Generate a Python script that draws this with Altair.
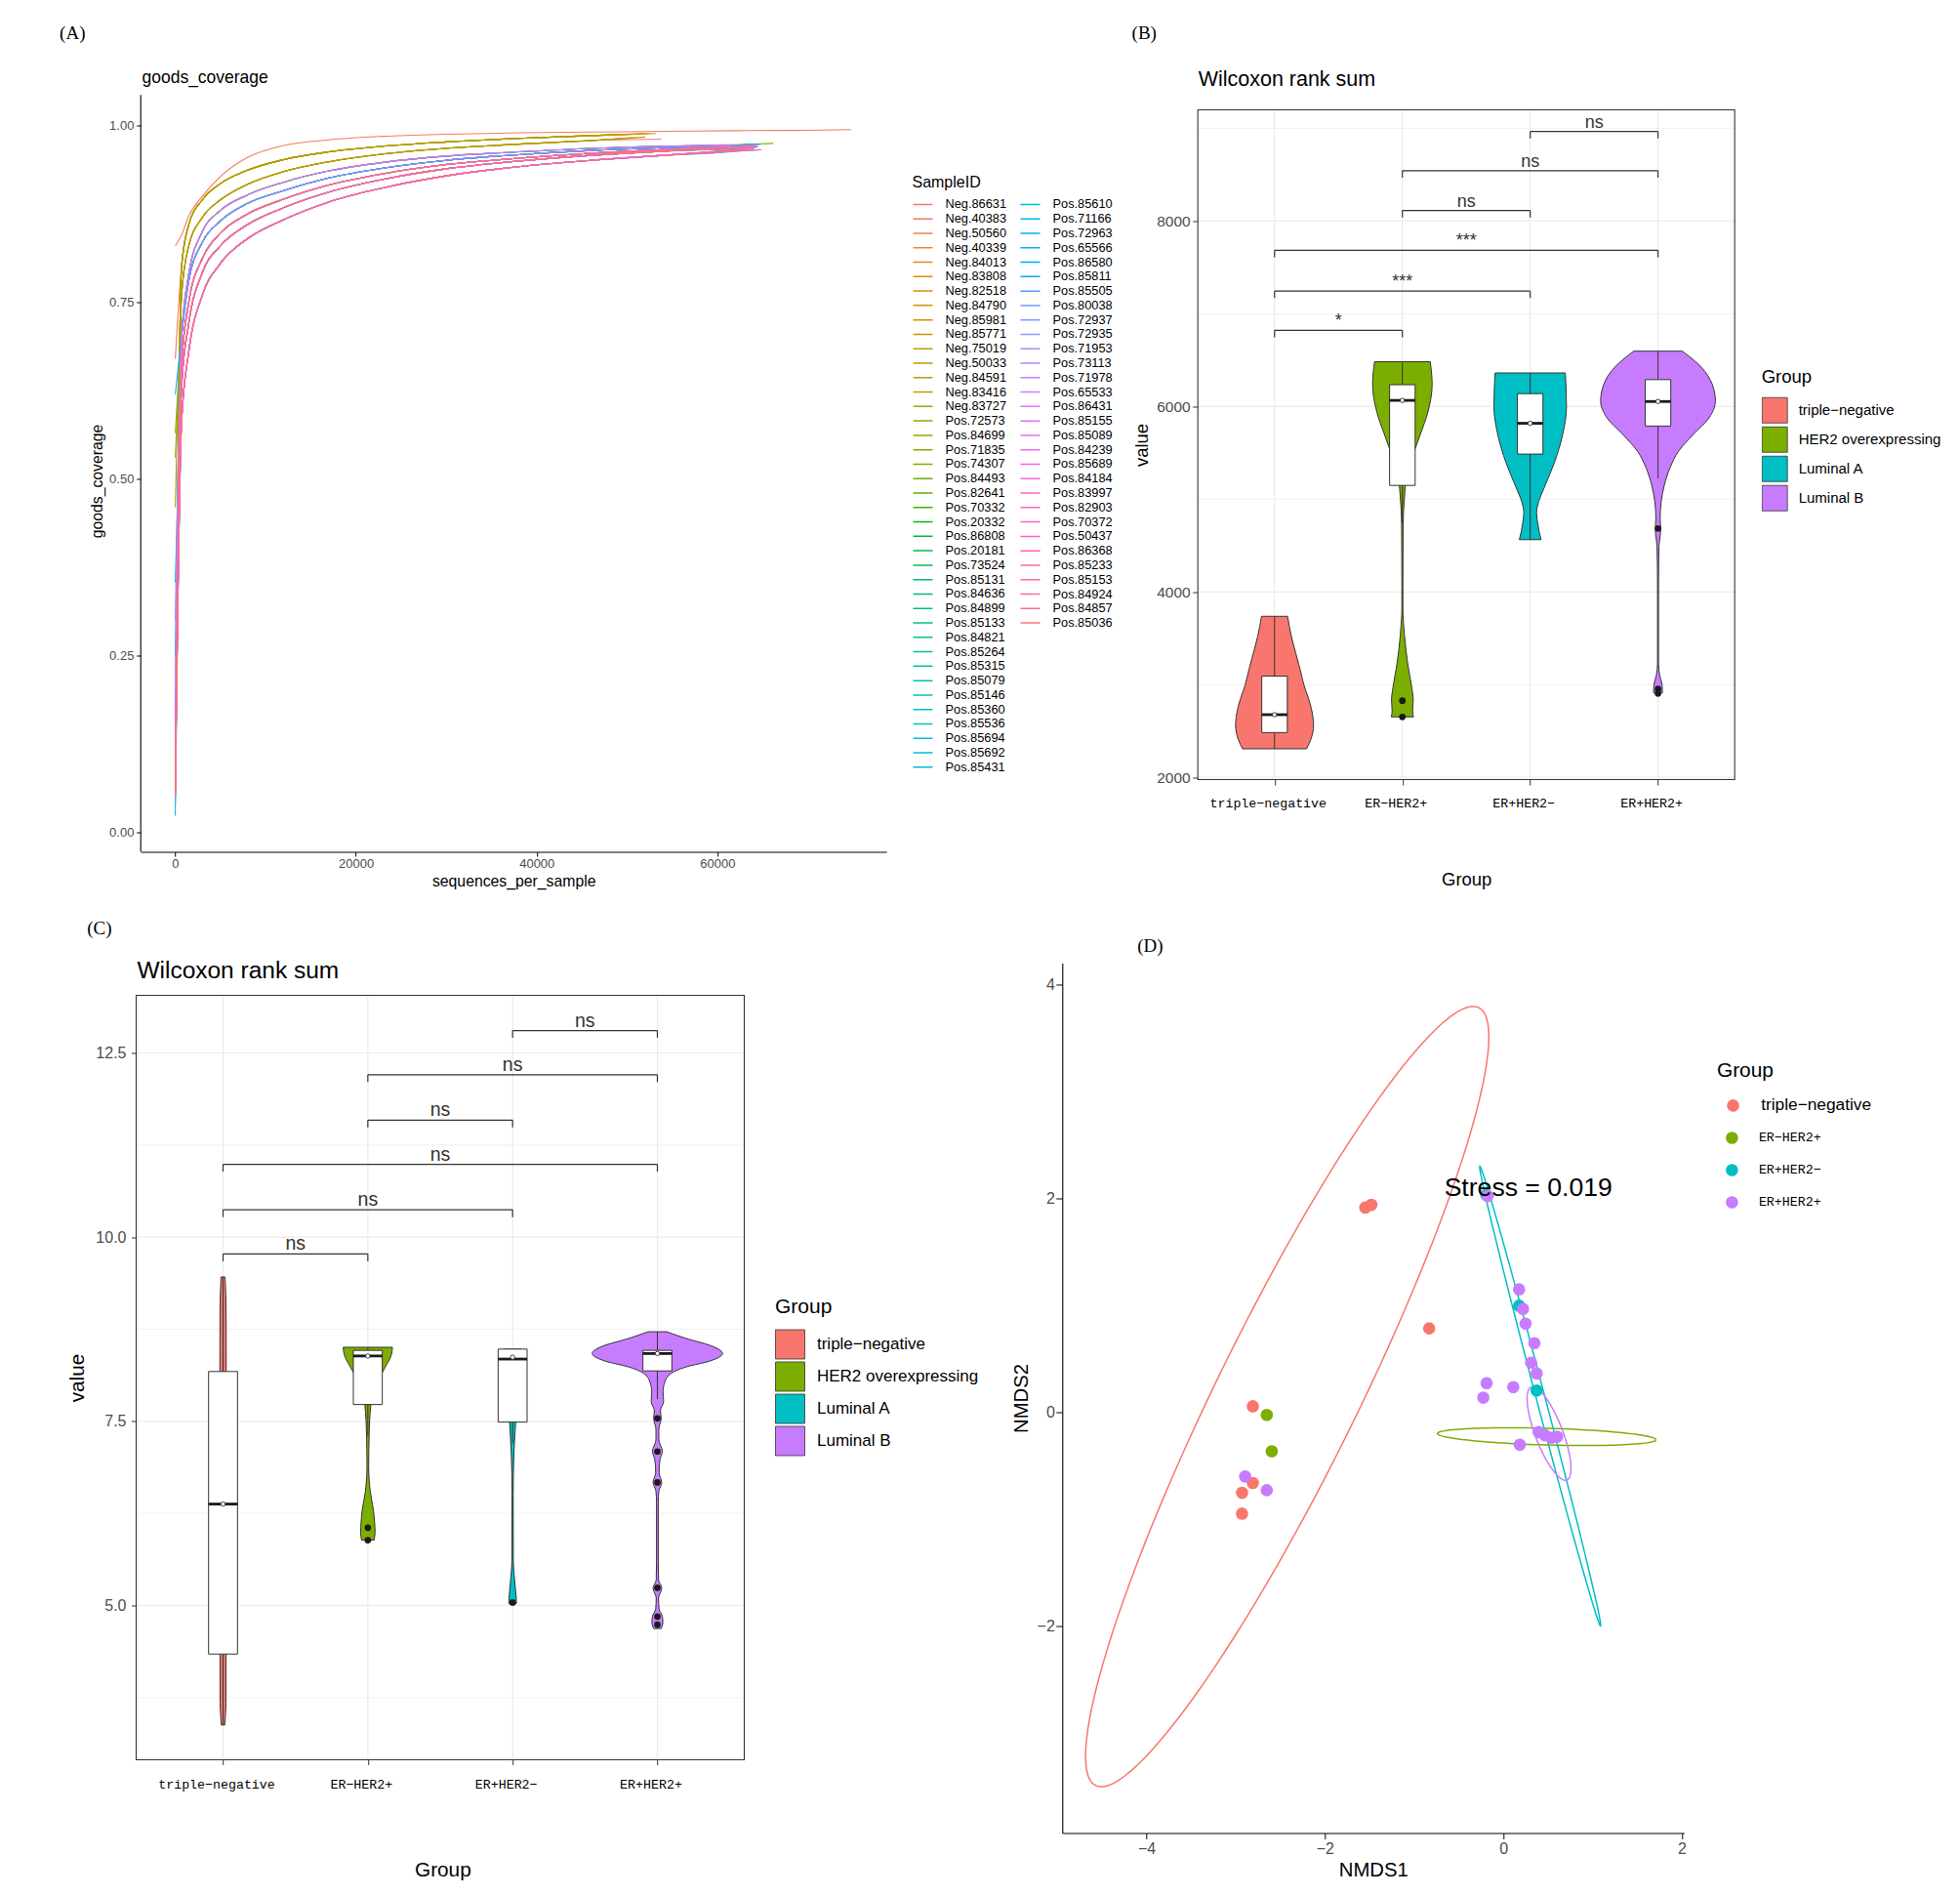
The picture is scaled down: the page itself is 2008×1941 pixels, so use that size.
import math
import altair as alt
import pandas as pd

FONT = "Liberation Sans"
MONO = "Liberation Mono"
SERIF = "Liberation Serif"
INK = "#333333"
LABEL = "#4D4D4D"
GRID = "#EBEBEB"

# ===================== Panel A data (goods_coverage) =====================
ids_col1 = ["Neg.86631", "Neg.40383", "Neg.50560", "Neg.40339", "Neg.84013", "Neg.83808", "Neg.82518",
            "Neg.84790", "Neg.85981", "Neg.85771", "Neg.75019", "Neg.50033", "Neg.84591", "Neg.83416",
            "Neg.83727", "Pos.72573", "Pos.84699", "Pos.71835", "Pos.74307", "Pos.84493", "Pos.82641",
            "Pos.70332", "Pos.20332", "Pos.86808", "Pos.20181", "Pos.73524", "Pos.85131", "Pos.84636",
            "Pos.84899", "Pos.85133", "Pos.84821", "Pos.85264", "Pos.85315", "Pos.85079", "Pos.85146",
            "Pos.85360", "Pos.85536", "Pos.85694", "Pos.85692", "Pos.85431"]
ids_col2 = ["Pos.85610", "Pos.71166", "Pos.72963", "Pos.65566", "Pos.86580", "Pos.85811", "Pos.85505",
            "Pos.80038", "Pos.72937", "Pos.72935", "Pos.71953", "Pos.73113", "Pos.71978", "Pos.65533",
            "Pos.86431", "Pos.85155", "Pos.85089", "Pos.84239", "Pos.85689", "Pos.84184", "Pos.83997",
            "Pos.82903", "Pos.70372", "Pos.50437", "Pos.86368", "Pos.85233", "Pos.85153", "Pos.84924",
            "Pos.84857", "Pos.85036"]

depth_grid = [700, 1500, 3000, 5000, 8000, 12000, 17000, 23000, 30000, 38000, 46000, 54000, 62000, 70000]
profile_long = [0.845, 0.872, 0.900, 0.928, 0.955, 0.972, 0.980, 0.985, 0.988, 0.990, 0.991, 0.992, 0.993, 0.9935]
profile_neg_hi = [0.80, 0.86, 0.895, 0.918, 0.937, 0.952, 0.963, 0.971, 0.977, 0.982, 0.986, 0.989, 0.990, 0.991]
profile_neg_lo = [0.76, 0.83, 0.870, 0.895, 0.917, 0.935, 0.949, 0.960, 0.968, 0.974, 0.979, 0.982, 0.984, 0.985]
profile_mid = [0.70, 0.79, 0.850, 0.880, 0.902, 0.920, 0.936, 0.948, 0.957, 0.963, 0.968, 0.971, 0.973, 0.975]
profile_band_hi = [0.70, 0.78, 0.835, 0.865, 0.890, 0.908, 0.926, 0.940, 0.951, 0.959, 0.965, 0.969, 0.972, 0.974]
profile_band_m1 = [0.66, 0.75, 0.812, 0.848, 0.875, 0.896, 0.916, 0.932, 0.945, 0.954, 0.961, 0.966, 0.970, 0.972]
profile_band_m2 = [0.63, 0.72, 0.792, 0.830, 0.860, 0.884, 0.906, 0.924, 0.939, 0.950, 0.958, 0.964, 0.968, 0.971]
profile_band_lo = [0.58, 0.68, 0.760, 0.805, 0.840, 0.867, 0.892, 0.912, 0.929, 0.942, 0.951, 0.958, 0.964, 0.968]
profiles = {"long": profile_long, "neg_hi": profile_neg_hi, "neg_lo": profile_neg_lo, "mid": profile_mid,
            "band_hi": profile_band_hi, "band_m1": profile_band_m1, "band_m2": profile_band_m2,
            "band_lo": profile_band_lo}

sample_profile = [
    "neg_lo", "long", "neg_hi", "neg_lo", "neg_hi", "neg_lo", "neg_hi", "neg_hi", "neg_hi", "neg_lo",
    "neg_hi", "neg_hi", "neg_lo", "neg_lo", "neg_hi",
    "mid", "band_hi", "mid", "band_m1", "band_m2", "band_hi", "band_m1", "mid", "band_m2", "band_m1",
    "band_lo", "band_hi", "band_m2", "band_m1", "band_lo", "band_m2", "band_hi", "band_m1", "band_lo", "band_m2",
    "band_hi", "band_m1", "band_lo", "band_m2", "band_hi",
    "band_hi", "band_m1", "band_m2", "band_lo", "band_hi", "band_m1", "band_m2", "band_lo", "band_m1", "mid",
    "band_m2", "band_lo", "band_hi", "band_m1", "mid", "band_lo", "band_m2", "band_m1", "band_lo", "band_m2",
    "band_m1", "band_lo", "band_m2", "band_m1", "band_lo", "band_m2", "band_m1", "band_lo", "band_m2", "band_m1"]
sample_start = [
    0.10, 0.83, 0.67, 0.12, 0.09, 0.15, 0.11, 0.08, 0.13, 0.07, 0.10, 0.12, 0.46, 0.09, 0.11,
    0.53, 0.565, 0.10, 0.08, 0.12, 0.09, 0.11, 0.07, 0.10, 0.08,
    0.06, 0.09, 0.07, 0.08, 0.06, 0.07, 0.09, 0.06, 0.08, 0.07,
    0.06, 0.07, 0.023, 0.353, 0.09,
    0.62, 0.13, 0.07, 0.05, 0.25, 0.10, 0.16, 0.04, 0.12, 0.30,
    0.08, 0.06, 0.20, 0.09, 0.15, 0.05, 0.07, 0.06, 0.05, 0.08,
    0.06, 0.05, 0.07, 0.06, 0.06, 0.05, 0.07, 0.058, 0.06, 0.05]
sample_end_depth = [
    53800, 74800, 52000, 51000, 49000, 47500, 52500, 51500, 50000, 49500, 53200, 47000, 52000, 50500, 48500,
    66200, 63000, 61000, 62500, 64000, 63500, 62000, 60000, 64500, 63000,
    62000, 64000, 61500, 63800, 62800, 64200, 61800, 63300, 61000, 62400,
    63900, 60800, 64000, 62200, 63600,
    64000, 62500, 63500, 61200, 64800, 62900, 63700, 61800, 64300, 62000,
    63100, 60500, 64600, 62600, 61600, 63400, 64100, 62300, 64900, 63000,
    64400, 61400, 63600, 62700, 64600, 63200, 64000, 62100, 63800, 64200]
sample_end_cov = [
    0.981, 0.9945, 0.989, 0.983, 0.987, 0.980, 0.989, 0.988, 0.988, 0.982, 0.989, 0.986, 0.984, 0.983, 0.987,
    0.975, 0.973, 0.973, 0.971, 0.970, 0.973, 0.970, 0.972, 0.970, 0.971,
    0.966, 0.974, 0.967, 0.971, 0.966, 0.969, 0.972, 0.970, 0.964, 0.968,
    0.974, 0.968, 0.967, 0.968, 0.973,
    0.973, 0.970, 0.969, 0.964, 0.974, 0.970, 0.969, 0.965, 0.971, 0.973,
    0.968, 0.962, 0.973, 0.970, 0.972, 0.966, 0.969, 0.969, 0.966, 0.968,
    0.971, 0.964, 0.968, 0.970, 0.966, 0.968, 0.971, 0.965, 0.968, 0.970]
a_axis_extent = (-0.028, 1.0436)

# ===================== Panels B / C data (violins) =====================
groups = ["triple\u2212negative", "ER\u2212HER2+", "ER+HER2\u2212", "ER+HER2+"]
subtypes = ["triple\u2212negative", "HER2 overexpressing", "Luminal A", "Luminal B"]
group_colors = ["#F8766D", "#7CAE00", "#00BFC4", "#C77CFF"]

b_violin_value = [
    [2308, 2410, 2561, 2652, 2742, 2863, 2983, 3164, 3345, 3526, 3737],
    [2652, 2712, 2833, 2983, 3225, 3526, 3828, 4130, 4733, 5035, 5336, 5517, 5698, 5940, 6241, 6483],
    [4564, 4650, 4733, 4850, 4914, 5155, 5397, 5698, 6000, 6362],
    [2911, 2953, 3014, 3104, 3225, 4130, 4492, 4673, 4793, 4974, 5155, 5336, 5517, 5698, 5879, 6060, 6241,
     6422, 6597]]
b_violin_half = [
    [0.25, 0.284, 0.305, 0.30, 0.288, 0.263, 0.233, 0.20, 0.165, 0.131, 0.102],
    [0.087, 0.08, 0.085, 0.072, 0.042, 0.017, 0.004, 0.004, 0.006, 0.017, 0.042, 0.093, 0.14, 0.20, 0.233, 0.218],
    [0.085, 0.07, 0.06, 0.05, 0.055, 0.119, 0.19, 0.254, 0.284, 0.275],
    [0.034, 0.034, 0.03, 0.013, 0.004, 0.004, 0.008, 0.021, 0.017, 0.025, 0.05, 0.093, 0.16, 0.275, 0.40,
     0.449, 0.424, 0.34, 0.19]]
b_q1 = [2483, 5149, 5487, 5789]
b_median = [2676, 6066, 5819, 6054]
b_q3 = [3092, 6235, 6139, 6290]
b_whisker_lo = [2308, 4733, 4564, 5227]
b_whisker_hi = [3738, 6483, 6362, 6597]
b_mid_dot = [2676, 6066, 5819, 6054]
b_outlier_group = [2, 2, 4, 4, 4]
b_outlier_value = [2827, 2652, 4685, 2953, 2905]
b_bracket_from = [1, 1, 1, 2, 2, 3]
b_bracket_to = [2, 3, 4, 3, 4, 4]
b_bracket_y = [6822, 7245, 7686, 8115, 8544, 8967]
b_bracket_label = ["*", "***", "***", "ns", "ns", "ns"]
b_panel_extent = (1976, 9200)

c_violin_value = [
    [3.378, 3.674, 4.35, 5.617, 6.883, 8.15, 8.995, 9.459],
    [5.887, 5.997, 6.123, 6.292, 6.546, 6.883, 7.306, 7.728, 7.897, 8.066, 8.235, 8.404, 8.505],
    [5.025, 5.068, 5.194, 5.363, 5.6, 6.5, 7.0, 7.22, 7.49, 7.9, 8.3, 8.48],
    [4.687, 4.772, 4.856, 4.95, 5.1, 5.236, 5.35, 5.6, 6.4, 6.55, 6.672, 6.8, 6.968, 7.095, 7.25, 7.39,
     7.54, 7.644, 7.77, 7.897, 8.024, 8.15, 8.235, 8.32, 8.42, 8.53, 8.615, 8.716]]
c_violin_half = [
    [0.012, 0.02, 0.021, 0.022, 0.022, 0.022, 0.021, 0.014],
    [0.043, 0.05, 0.047, 0.039, 0.017, 0.006, 0.009, 0.021, 0.039, 0.073, 0.12, 0.163, 0.17],
    [0.026, 0.026, 0.021, 0.013, 0.005, 0.004, 0.008, 0.013, 0.021, 0.04, 0.07, 0.06],
    [0.026, 0.038, 0.034, 0.012, 0.008, 0.03, 0.008, 0.006, 0.006, 0.01, 0.03, 0.012, 0.017, 0.034, 0.01,
     0.01, 0.026, 0.021, 0.043, 0.039, 0.05, 0.094, 0.193, 0.365, 0.45, 0.365, 0.215, 0.064]]
c_q1 = [4.341, 7.728, 7.49, 8.184]
c_median = [6.377, 8.387, 8.345, 8.42]
c_q3 = [8.176, 8.463, 8.48, 8.463]
c_whisker_lo = [3.378, 7.3, 7.2, 7.8]
c_whisker_hi = [9.459, 8.505, 8.48, 8.716]
c_mid_dot = [6.377, 8.387, 8.37, 8.42]
c_outlier_group = [2, 2, 3, 4, 4, 4, 4, 4, 4]
c_outlier_value = [6.056, 5.887, 5.04, 7.54, 7.09, 6.67, 5.24, 4.85, 4.74]
c_bracket_from = [1, 1, 1, 2, 2, 3]
c_bracket_to = [2, 3, 4, 3, 4, 4]
c_bracket_y = [9.772, 10.372, 10.988, 11.588, 12.204, 12.804]
c_bracket_label = ["ns", "ns", "ns", "ns", "ns", "ns"]
c_panel_extent = (2.906, 13.282)

# ===================== Panel D data (NMDS) =====================
d_group = (["triple\u2212negative"] * 7 + ["ER\u2212HER2+"] * 2 + ["ER+HER2\u2212"] * 3 + ["ER+HER2+"] * 17)
d_nmds1 = [-1.547, -1.479, -0.831, -2.807, -2.807, -2.928, -2.928,
           -2.651, -2.595,
           -0.19, 0.177, 0.374,
           -0.175, 0.177, 0.221, 0.25, 0.349, 0.312, 0.374, -0.187, -0.224, 0.112, 0.396, 0.469, 0.542,
           0.604, 0.185, -2.893, -2.651]
d_nmds2 = [1.912, 1.938, 0.782, 0.053, -0.665, -0.757, -0.952,
           -0.028, -0.368,
           2.03, 0.994, 0.201,
           2.02, 1.147, 0.964, 0.827, 0.644, 0.461, 0.36, 0.269, 0.134, 0.232, -0.188, -0.219, -0.241,
           -0.231, -0.307, -0.604, -0.732]
# stat_ellipse: centre and two conjugate half-axes
ell_group = ["triple\u2212negative", "ER\u2212HER2+", "ER+HER2\u2212", "ER+HER2+"]
ell_cx = [-2.422, 0.487, 0.414, 0.513]
ell_cy = [0.144, -0.231, 0.147, -0.202]
ell_ux = [2.147, 1.224, 0.677, 0.200]
ell_uy = [3.640, -0.029, -2.152, -0.435]
ell_vx = [0.707, -0.0026, 0.0476, 0.143]
ell_vy = [-0.292, -0.0778, 0.0105, 0.046]
stress_text = "Stress = 0.019"
stress_at = (0.28, 2.09)


def hcl_hex(h, c=100.0, l=65.0):
    hr = math.radians(h)
    U, V = c * math.cos(hr), c * math.sin(hr)
    Y = 100.0 * ((l + 16) / 116) ** 3
    u = U / (13 * l) + 0.1978398
    v = V / (13 * l) + 0.4683363
    X = 9.0 * Y * u / (4 * v)
    Z = -X / 3 - 5 * Y + 3 * Y / v
    rgb = [(3.240479 * X - 1.537150 * Y - 0.498535 * Z) / 100,
           (-0.969256 * X + 1.875992 * Y + 0.041556 * Z) / 100,
           (0.055648 * X - 0.204043 * Y + 1.057311 * Z) / 100]
    out = []
    for ch in rgb:
        ch = 12.92 * ch if ch <= 0.0031308 else 1.055 * ch ** (1 / 2.4) - 0.055
        out.append(max(0, min(255, round(ch * 255))))
    return "#%02X%02X%02X" % tuple(out)


def note(label, dx, dy, size, font=FONT):
    return alt.Chart(pd.DataFrame({"label": [label]})).mark_text(
        font=font, fontSize=size, align="left", baseline="middle", color="black"
    ).encode(text="label:N", x=alt.value(dx), y=alt.value(dy))


# ===================== Panel A =====================
all_ids = ids_col1 + ids_col2
n_s = len(all_ids)
all_colors = [hcl_hex(15 + 360.0 * i / n_s) for i in range(n_s)]
rows_a = []
for i, sid in enumerate(all_ids):
    pts = [(10, sample_start[i])]
    for d, val in zip(depth_grid, profiles[sample_profile[i]]):
        if d < sample_end_depth[i] - 1500:
            pts.append((d, val))
    pts.append((sample_end_depth[i], sample_end_cov[i]))
    for k, (d, val) in enumerate(pts):
        rows_a.append({"SampleID": sid, "depth": d, "coverage": val, "k": k, "col": 0 if i < 40 else 1})
df_a = pd.DataFrame(rows_a)

A_W, A_H = 764, 760
a_xdom = [-3812, 78726]
xs_a = alt.Scale(domain=a_xdom, nice=False, zero=False)
ys_a = alt.Scale(domain=[-0.028, 1.0225], nice=False, zero=False)
ax_xa = alt.Axis(values=[0, 20000, 40000, 60000], format="d", title="sequences_per_sample",
                 labelFontSize=13, titleFontSize=15.8, domainColor="black", domainWidth=1.1,
                 tickColor="black", tickSize=4.5, labelPadding=1.5, titlePadding=4, grid=False,
                 labelFlush=False, labelOverlap=False)
ax_ya = alt.Axis(values=[0, 0.25, 0.5, 0.75, 1.0], format=".2f", title="goods_coverage",
                 labelFontSize=13, titleFontSize=15.8, domain=False,
                 tickColor="black", tickSize=4.5, labelPadding=2.8, titlePadding=4, grid=False,
                 labelOverlap=False)
xa = alt.X("depth:Q", scale=xs_a, axis=ax_xa)
ya = alt.Y("coverage:Q", scale=ys_a, axis=ax_ya)


def a_legend(title, lx, ly):
    kw = dict(orient="none", legendX=lx, legendY=ly, direction="vertical", columns=1,
              symbolType="stroke", symbolSize=400, symbolStrokeWidth=1.5, labelFont=FONT,
              labelFontSize=12.8, labelColor="black", labelOffset=12, labelLimit=200,
              clipHeight=14, rowPadding=0.78, symbolLimit=60)
    if title:
        kw.update(title=title, titleFont=FONT, titleFontSize=16, titleFontWeight="normal",
                  titleColor="black", titlePadding=7.6)
    else:
        kw.update(title=None)
    return alt.Legend(**kw)


a_yline = alt.Chart(pd.DataFrame({"x": [a_xdom[0]], "y": [a_axis_extent[0]], "y2": [a_axis_extent[1]]})
                    ).mark_rule(color="black", strokeWidth=1.1).encode(
    x=alt.X("x:Q", scale=xs_a, axis=ax_xa), y=alt.Y("y:Q", scale=ys_a, axis=ax_ya), y2="y2:Q")
lines1 = alt.Chart(df_a[df_a["col"] == 0]).mark_line(strokeWidth=1.1, interpolate="monotone").encode(
    x=xa, y=ya, order="k:Q",
    color=alt.Color("SampleID:N", scale=alt.Scale(domain=ids_col1, range=all_colors[:40]),
                    legend=a_legend("SampleID", 790.3, 66.3)))
lines2 = alt.Chart(df_a[df_a["col"] == 1]).mark_line(strokeWidth=1.1, interpolate="monotone").encode(
    x=xa, y=ya, order="k:Q",
    color=alt.Color("SampleID:N", scale=alt.Scale(domain=ids_col2, range=all_colors[40:]),
                    legend=a_legend(None, 900.3, 89.95)))
panel_a = alt.layer(a_yline, lines1, lines2, note("(A)", -83.1, -78.7, 19, SERIF),
                    note("goods_coverage", 1.3, -32.7, 17.5)).resolve_scale(color="independent").properties(
    width=A_W, height=A_H)


# ===================== Violin panels =====================
def violin_panel(vals, halves, q1, med, q3, lo, hi, dot, og, ov, bf, bt, by, bl, extent, cfg):
    rows = []
    for gi in range(4):
        for val, hw in zip(vals[gi], halves[gi]):
            rows.append({"pos": gi + 1, "subtype": subtypes[gi], "value": val, "xl": gi + 1 - hw,
                         "xr": gi + 1 + hw})
    dv = pd.DataFrame(rows)
    db = pd.DataFrame({"pos": [1, 2, 3, 4], "bl": [p - 0.1 for p in (1, 2, 3, 4)],
                       "br": [p + 0.1 for p in (1, 2, 3, 4)], "q1": q1, "med": med, "q3": q3,
                       "lo": lo, "hi": hi, "dot": dot})
    do = pd.DataFrame({"pos": og, "value": ov})
    dbr = pd.DataFrame({"x1": bf, "x2": bt, "y": by, "label": bl})
    dtk = pd.DataFrame({"x": bf + bt, "y": by + by})
    hg_y = list(cfg["yticks"]) + list(cfg["minor"])
    dhgrid = pd.DataFrame({"x": [0.4] * len(hg_y), "x2": [4.6] * len(hg_y), "y": hg_y,
                           "w": [1.2] * len(cfg["yticks"]) + [0.7] * len(cfg["minor"])})
    dgrid = pd.DataFrame({"x": [1, 2, 3, 4], "y": [extent[0]] * 4, "y2": [extent[1]] * 4})
    dframe = pd.DataFrame({"x": [0.4], "x2": [4.6], "y": [extent[0]], "y2": [extent[1]]})

    label_expr = "[''," + ",".join("'%s'" % g for g in groups) + "][datum.value]"
    xs = alt.Scale(domain=[cfg["xmin"], 4.6], nice=False, zero=False)
    ys = alt.Scale(domain=cfg["ydom"], nice=False, zero=False)
    xax = alt.Axis(values=[1, 2, 3, 4], labelExpr=label_expr, title="Group", labelFont=MONO,
                   labelFontSize=13.3, labelColor="black", labelPadding=cfg["xlabpad"], labelOffset=-7,
                   titleFontSize=cfg["axtitle"], titlePadding=cfg["xtitlepad"], domain=False,
                   tickColor=INK, tickSize=cfg["tick"], grid=False, labelFlush=False, labelOverlap=False)
    ykw = dict(values=cfg["yticks"], format=cfg["yfmt"], title="value", labelFontSize=cfg["ylab"],
               labelColor=LABEL, titleFontSize=cfg["axtitle"], titlePadding=cfg["ytitlepad"],
               domain=False, tickColor=INK, tickSize=cfg["tick"], labelPadding=cfg["ylabpad"],
               grid=False, labelOverlap=False, offset=cfg["yoffset"])
    if "ytitley" in cfg:
        ykw["titleY"] = cfg["ytitley"]
    yax = alt.Axis(**ykw)

    def X(f):
        return alt.X(f, type="quantitative", scale=xs, axis=xax)

    def Y(f):
        return alt.Y(f, type="quantitative", scale=ys, axis=yax)

    vgrid = alt.Chart(dgrid).mark_rule(color=GRID, strokeWidth=1.2).encode(x=X("x"), y=Y("y"), y2="y2")
    hgrid = alt.Chart(dhgrid).mark_rule(color=GRID).encode(
        x=X("x"), x2="x2", y=Y("y"), strokeWidth=alt.StrokeWidth("w:Q", scale=None))
    leg = alt.Legend(title="Group", orient="none", legendX=cfg["legx"], legendY=cfg["legy"],
                     direction="vertical", columns=1, symbolType="square", symbolSize=cfg["box"] ** 2,
                     symbolStrokeColor=INK, symbolStrokeWidth=0.8, symbolOpacity=1,
                     clipHeight=cfg["row"], rowPadding=0, labelFont=FONT, labelFontSize=cfg["leglab"],
                     labelColor="black", labelOffset=cfg["laboff"], labelLimit=300,
                     titleFont=FONT, titleFontSize=cfg["legtitle"], titleFontWeight="normal",
                     titleColor="black", titlePadding=cfg["titlepad"])
    violin = alt.Chart(dv).mark_area(orient="horizontal", stroke=INK, strokeWidth=1,
                                     interpolate="monotone", opacity=1).encode(
        y=Y("value"), x=alt.X("xl:Q", scale=xs, axis=xax, stack=None), x2="xr",
        fill=alt.Fill("subtype:N", scale=alt.Scale(domain=subtypes, range=group_colors), legend=leg))
    whisk = alt.Chart(db).mark_rule(color=INK, strokeWidth=1).encode(x=X("pos"), y=Y("lo"), y2="hi")
    boxes = alt.Chart(db).mark_rect(fill="white", stroke=INK, strokeWidth=1).encode(
        x=X("bl"), x2="br", y=Y("q1"), y2="q3")
    meds = alt.Chart(db).mark_rule(color="#1A1A1A", strokeWidth=2.8).encode(x=X("bl"), x2="br", y=Y("med"))
    dots = alt.Chart(db).mark_point(filled=True, fill="white", stroke="#1A1A1A", strokeWidth=0.8,
                                    size=20, opacity=1).encode(x=X("pos"), y=Y("dot"))
    outl = alt.Chart(do).mark_circle(color="#1A1A1A", size=45, opacity=1).encode(x=X("pos"), y=Y("value"))
    br_h = alt.Chart(dbr).mark_rule(color=INK, strokeWidth=1.2).encode(x=X("x1"), x2="x2", y=Y("y"))
    br_v = alt.Chart(dtk).transform_calculate(y2="datum.y - %f" % cfg["drop"]).mark_rule(
        color=INK, strokeWidth=1.2).encode(x=X("x"), y=Y("y"), y2="y2:Q")
    br_t = alt.Chart(dbr).transform_calculate(xm="(datum.x1 + datum.x2) / 2").mark_text(
        font=FONT, fontSize=cfg["brfont"], baseline="alphabetic", dy=-4, color=INK).encode(
        x=X("xm"), y=Y("y"), text="label:N")
    frame = alt.Chart(dframe).mark_rect(fill="white", fillOpacity=0, stroke=INK, strokeWidth=1.1).encode(
        x=X("x"), x2="x2", y=Y("y"), y2="y2")
    return alt.layer(vgrid, hgrid, violin, whisk, boxes, meds, dots, outl, br_h, br_v, br_t, frame,
                     note(cfg["letter"], cfg["ldx"], cfg["ldy"], 19, SERIF),
                     note("Wilcoxon rank sum", cfg["tdx"], cfg["tdy"], cfg["titlesize"])).properties(
        width=cfg["w"], height=cfg["h"])


panel_b = violin_panel(b_violin_value, b_violin_half, b_q1, b_median, b_q3, b_whisker_lo, b_whisker_hi,
                       b_mid_dot, b_outlier_group, b_outlier_value, b_bracket_from, b_bracket_to,
                       b_bracket_y, b_bracket_label, b_panel_extent,
                       dict(w=550, h=686, xmin=0.4, yoffset=0, ydom=[1976, 9200],
                            yticks=[2000, 4000, 6000, 8000], yfmt="d",
                            minor=[3000, 5000, 7000, 9000], ylab=15.5, axtitle=18.5, xlabpad=11.5,
                            xtitlepad=63, ytitlepad=5, ylabpad=2.5, tick=5.5, legx=577.5, legy=264.5,
                            box=26, row=29.5, leglab=15, laboff=11, legtitle=18.5, titlepad=10, drop=75,
                            brfont=18, letter="(B)", ldx=-67.6, ldy=-78.7, tdx=0.5, tdy=-31,
                            titlesize=21.5))
panel_c = violin_panel(c_violin_value, c_violin_half, c_q1, c_median, c_q3, c_whisker_lo, c_whisker_hi,
                       c_mid_dot, c_outlier_group, c_outlier_value, c_bracket_from, c_bracket_to,
                       c_bracket_y, c_bracket_label, c_panel_extent,
                       dict(w=618.3, h=816, xmin=0.4316, yoffset=4.7, ydom=[2.906, 13.719],
                            yticks=[5, 7.5, 10, 12.5], yfmt=".1f",
                            minor=[3.75, 6.25, 8.75, 11.25], ylab=16, axtitle=20.8, xlabpad=13,
                            xtitlepad=72, ytitlepad=8.5, ytitley=424.5, ylabpad=5.5, tick=5, legx=649.8,
                            legy=342, box=30, row=33, leglab=17, laboff=12, legtitle=21, titlepad=11,
                            drop=0.1, brfont=19.5, letter="(C)", ldx=-54.9, ldy=-35.7, tdx=-3.8, tdy=9,
                            titlesize=24.5))

# ===================== Panel D =====================
D_W, D_H = 637, 891
df_d = pd.DataFrame({"group": d_group, "NMDS1": d_nmds1, "NMDS2": d_nmds2})
xsd = alt.Scale(domain=[-4.943, 2.026], nice=False, zero=False)
ysd = alt.Scale(domain=[-3.94, 4.2], nice=False, zero=False)
xaxd = alt.Axis(values=[-4, -2, 0, 2], title="NMDS1", labelFontSize=16, titleFontSize=20.3,
                domainColor="black", domainWidth=1.1, tickColor="black", tickSize=6, labelPadding=2,
                titlePadding=4, grid=False, labelFlush=False, labelOverlap=False)
yaxd = alt.Axis(values=[-2, 0, 2, 4], title="NMDS2", labelFontSize=16, titleFontSize=20.3,
                domainColor="black", domainWidth=1.1, tickColor="black", tickSize=6.5, labelPadding=1.5,
                titlePadding=5.8, grid=False, labelOverlap=False)
df_ell = pd.DataFrame({"group": ell_group, "cx": ell_cx, "cy": ell_cy, "ux": ell_ux, "uy": ell_uy,
                       "vx": ell_vx, "vy": ell_vy, "t": [list(range(0, 361, 3))] * 4})
ellipses = alt.Chart(df_ell).transform_flatten(["t"]).transform_calculate(
    ex="datum.cx + datum.ux * cos(datum.t * PI / 180) + datum.vx * sin(datum.t * PI / 180)",
    ey="datum.cy + datum.uy * cos(datum.t * PI / 180) + datum.vy * sin(datum.t * PI / 180)"
).mark_line(strokeWidth=1.5).encode(
    x=alt.X("ex:Q", scale=xsd, axis=xaxd), y=alt.Y("ey:Q", scale=ysd, axis=yaxd), order="t:Q",
    color=alt.Color("group:N", scale=alt.Scale(domain=groups, range=group_colors), legend=None))


def d_legend(title, ly, font, size):
    kw = dict(orient="none", legendX=670.6, legendY=ly, direction="vertical", columns=1,
              symbolType="circle", symbolSize=160, symbolOffset=8, clipHeight=33, rowPadding=0,
              labelFont=font, labelFontSize=size, labelColor="black", labelOffset=20, labelLimit=300)
    if title:
        kw.update(title=title, titleFont=FONT, titleFontSize=20.9, titleFontWeight="normal",
                  titleColor="black", titlePadding=9)
    else:
        kw.update(title=None)
    return alt.Legend(**kw)


pts_tn = alt.Chart(df_d[df_d["group"] == groups[0]]).mark_circle(size=160, opacity=1).encode(
    x=alt.X("NMDS1:Q", scale=xsd, axis=xaxd), y=alt.Y("NMDS2:Q", scale=ysd, axis=yaxd),
    color=alt.Color("group:N", scale=alt.Scale(domain=groups[:1], range=group_colors[:1]),
                    legend=d_legend("Group", 99.5, FONT, 17.3)))
pts_er = alt.Chart(df_d[df_d["group"] != groups[0]]).mark_circle(size=160, opacity=1).encode(
    x=alt.X("NMDS1:Q", scale=xsd, axis=xaxd), y=alt.Y("NMDS2:Q", scale=ysd, axis=yaxd),
    color=alt.Color("group:N", scale=alt.Scale(domain=groups[1:], range=group_colors[1:]),
                    legend=d_legend(None, 162.5, MONO, 13.3)))
stress = alt.Chart(pd.DataFrame({"x": [stress_at[0]], "y": [stress_at[1]], "label": [stress_text]})).mark_text(
    font=FONT, fontSize=26.6, color="black", align="center", baseline="middle").encode(
    x=alt.X("x:Q", scale=xsd, axis=xaxd), y=alt.Y("y:Q", scale=ysd, axis=yaxd), text="label:N")
panel_d = alt.layer(ellipses, pts_tn, pts_er, stress, note("(D)", 77, -17, 19, SERIF)).resolve_scale(
    color="independent").properties(width=D_W, height=D_H)

row1 = alt.hconcat(panel_a, panel_b, spacing=18).resolve_scale(color="independent", fill="independent")
row2 = alt.hconcat(panel_c, panel_d, spacing=32.1).resolve_scale(color="independent", fill="independent")
chart = alt.vconcat(row1, row2, spacing=31).resolve_scale(
    color="independent", fill="independent").properties(
    padding={"left": 52.2, "top": 16.5, "right": 0, "bottom": 4}, background="white"
).configure(font=FONT).configure_view(stroke=None).configure_axis(
    labelFont=FONT, titleFont=FONT, titleFontWeight="normal", labelColor=LABEL, titleColor="black"
).configure_legend(titleFontWeight="normal")

chart.save("out.html", embed_options={"renderer": "svg", "actions": False})
